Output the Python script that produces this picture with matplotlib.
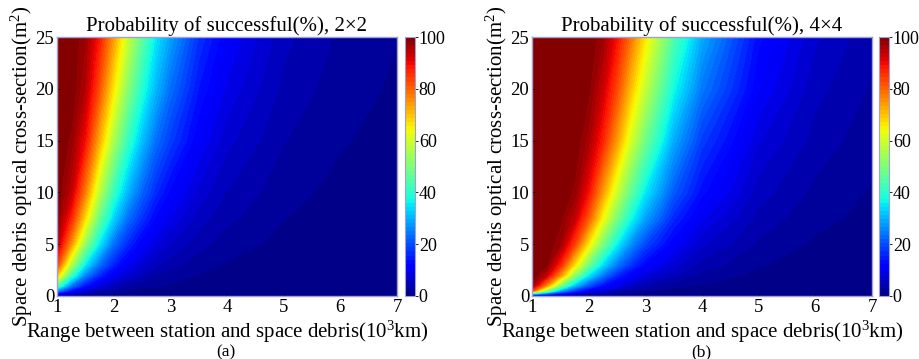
import matplotlib.pyplot as plt
import numpy as np

plt.rcParams['font.family'] = ['Liberation Serif', 'DejaVu Serif']
plt.rcParams['mathtext.default'] = 'regular'

# range between station and debris (10^3 km) and optical cross-section (m^2)
ranges = [1, 1.25, 1.5, 1.75, 2, 2.25, 2.5, 2.75, 3, 3.5, 4, 5, 6, 7]
sections = [0, 0.5, 1, 2, 3, 5, 7.5, 10, 15, 20, 25]

# probability of success (%), one row per range, one column per cross-section
prob_2x2 = [
    [0, 26, 45, 70, 84, 95, 99, 100, 100, 100, 100],
    [0, 13, 24, 42, 56, 75, 87, 94, 98, 100, 100],
    [0, 7, 14, 25, 35, 52, 67, 77, 89, 95, 97],
    [0, 4, 8, 16, 23, 35, 47, 57, 72, 82, 88],
    [0, 3, 5, 10, 15, 23, 33, 41, 55, 66, 74],
    [0, 2, 3, 7, 10, 16, 23, 30, 41, 51, 59],
    [0, 1, 2, 5, 7, 11, 17, 22, 31, 39, 46],
    [0, 1, 2, 3, 5, 8, 12, 16, 23, 30, 35],
    [0, 0.6, 1.3, 2.5, 3.8, 6.2, 9.2, 12, 18, 23, 28],
    [0, 0.4, 0.7, 1.5, 2.2, 3.7, 5.5, 7.2, 11, 14, 17],
    [0, 0.2, 0.5, 0.9, 1.4, 2.3, 3.5, 4.6, 6.8, 9.0, 11],
    [0, 0.1, 0.2, 0.4, 0.6, 1.1, 1.6, 2.1, 3.2, 4.2, 5.2],
    [0, 0.06, 0.11, 0.23, 0.34, 0.57, 0.85, 1.1, 1.7, 2.3, 2.8],
    [0, 0.03, 0.07, 0.13, 0.2, 0.33, 0.5, 0.66, 1.0, 1.3, 1.6],
]
prob_4x4 = [
    [0, 83, 97, 100, 100, 100, 100, 100, 100, 100, 100],
    [0, 51, 76, 94, 99, 100, 100, 100, 100, 100, 100],
    [0, 29, 50, 75, 87, 97, 99, 100, 100, 100, 100],
    [0, 17, 31, 52, 67, 84, 94, 98, 100, 100, 100],
    [0, 10, 20, 35, 48, 66, 81, 89, 96, 99, 100],
    [0, 7, 13, 24, 34, 49, 64, 74, 87, 93, 97],
    [0, 4, 9, 16, 24, 36, 49, 59, 74, 83, 89],
    [0, 3, 6, 11, 17, 26, 37, 46, 60, 70, 78],
    [0, 2, 4, 8, 12, 19, 28, 35, 48, 58, 66],
    [0, 1, 2, 5, 7, 11, 16, 21, 29, 37, 44],
    [0, 0.7, 1.4, 2.7, 4.0, 6.6, 9.7, 13, 18, 24, 29],
    [0, 0.3, 0.6, 1.1, 1.7, 2.8, 4.1, 5.4, 8.0, 11, 13],
    [0, 0.1, 0.3, 0.5, 0.8, 1.3, 2.0, 2.7, 4.0, 5.2, 6.5],
    [0, 0.07, 0.15, 0.29, 0.44, 0.72, 1.1, 1.4, 2.2, 2.9, 3.6],
]

fig = plt.figure(figsize=(9.19, 3.59), dpi=100)


def panel(left, cb_left, prob, size, tag):
    ax = fig.add_axes([left, 0.1755, 0.370, 0.7214])
    cax = fig.add_axes([cb_left, 0.1755, 0.0105, 0.7214])
    cs = ax.contourf(ranges, sections, np.array(prob).T,
                     levels=np.linspace(0, 100, 65), cmap='jet',
                     vmin=0, vmax=100, antialiased=False)
    ax.set_xlim(1, 7)
    ax.set_ylim(0, 25)
    ax.set_xticks(range(1, 8))
    ax.set_yticks(range(0, 26, 5))
    ax.tick_params(direction='in', length=2, width=0.6, labelsize=13.5, pad=2)
    for s in ax.spines.values():
        s.set_color('#a0a0d8')
        s.set_linewidth(1)
    ax.set_title('Probability of successful(%), ' + size, fontsize=15, pad=4)
    ax.set_xlabel('Range between station and space debris(10$^3$km)', fontsize=15)
    ax.xaxis.label.set_va('center')
    ax.xaxis.set_label_coords(0.5, -0.138)
    ax.set_ylabel('Space debris optical cross-section(m$^2$)', fontsize=15)
    ax.yaxis.label.set_va('center')
    ax.yaxis.set_label_coords(-0.104, 0.5)

    cb = fig.colorbar(cs, cax=cax, ticks=range(0, 101, 20))
    cb.outline.set_edgecolor('#a0a0d8')
    cax.tick_params(direction='out', length=2, width=0.6, labelsize=13, pad=1)
    fig.text(left + 0.184, 0.019, tag, ha='center', va='center', fontsize=12.5)


panel(0.062, 0.4407, prob_2x2, '2\u00d72', '(a)')
panel(0.5789, 0.9565, prob_4x4, '4\u00d74', '(b)')

fig.savefig('out.png', dpi=100)
